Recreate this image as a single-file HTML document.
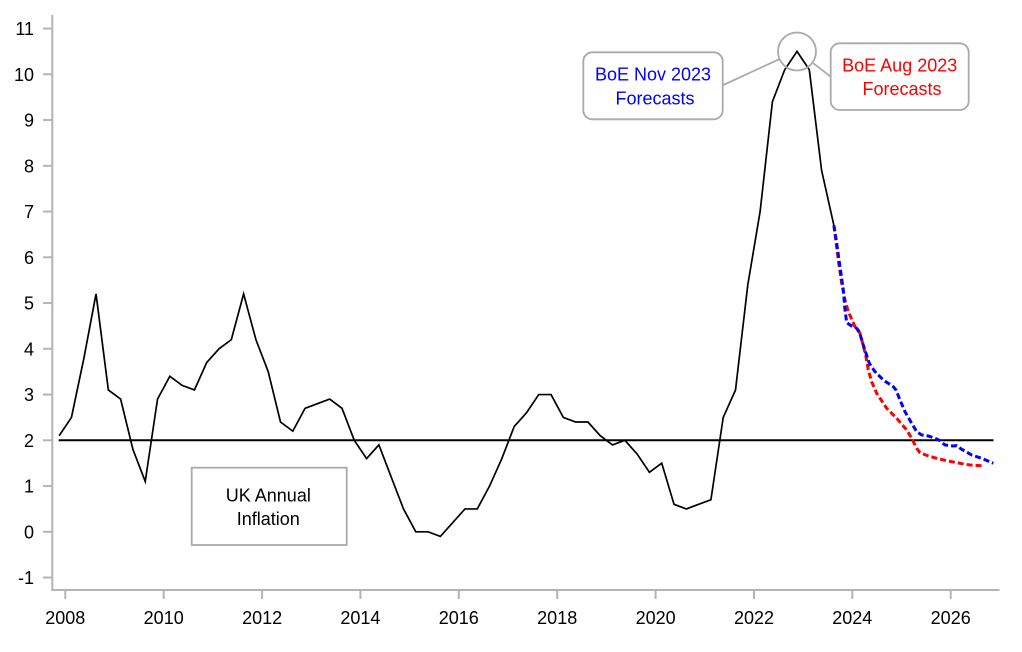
<!DOCTYPE html>
<html><head><meta charset="utf-8"><style>
html,body{margin:0;padding:0;background:#fff;}
svg{display:block;}
text{font-family:"Liberation Sans",Arial,sans-serif;font-size:18px;}
</style></head><body>
<svg width="1022" height="652" viewBox="0 0 1022 652" xmlns="http://www.w3.org/2000/svg">
<rect width="1022" height="652" fill="#fff"/>
<!-- axes -->
<g stroke="#b4b4b4" stroke-width="2" fill="none">
<line x1="52.3" y1="15" x2="52.3" y2="591"/>
<line x1="51.3" y1="590" x2="999.5" y2="590"/>
<line x1="43" y1="28.55" x2="52" y2="28.55"/>
<line x1="43" y1="74.3" x2="52" y2="74.3"/>
<line x1="43" y1="120.05" x2="52" y2="120.05"/>
<line x1="43" y1="165.8" x2="52" y2="165.8"/>
<line x1="43" y1="211.55" x2="52" y2="211.55"/>
<line x1="43" y1="257.3" x2="52" y2="257.3"/>
<line x1="43" y1="303.05" x2="52" y2="303.05"/>
<line x1="43" y1="348.8" x2="52" y2="348.8"/>
<line x1="43" y1="394.55" x2="52" y2="394.55"/>
<line x1="43" y1="440.3" x2="52" y2="440.3"/>
<line x1="43" y1="486.05" x2="52" y2="486.05"/>
<line x1="43" y1="531.8" x2="52" y2="531.8"/>
<line x1="43" y1="577.55" x2="52" y2="577.55"/>
<line x1="65.3" y1="590" x2="65.3" y2="599"/>
<line x1="163.7" y1="590" x2="163.7" y2="599"/>
<line x1="262.1" y1="590" x2="262.1" y2="599"/>
<line x1="360.4" y1="590" x2="360.4" y2="599"/>
<line x1="458.8" y1="590" x2="458.8" y2="599"/>
<line x1="557.2" y1="590" x2="557.2" y2="599"/>
<line x1="655.6" y1="590" x2="655.6" y2="599"/>
<line x1="754.0" y1="590" x2="754.0" y2="599"/>
<line x1="852.3" y1="590" x2="852.3" y2="599"/>
<line x1="950.7" y1="590" x2="950.7" y2="599"/>
</g>
<g fill="#000" text-anchor="end">
<text x="34" y="35">11</text>
<text x="34" y="80.8">10</text>
<text x="34" y="126.5">9</text>
<text x="34" y="172.3">8</text>
<text x="34" y="218">7</text>
<text x="34" y="263.8">6</text>
<text x="34" y="309.5">5</text>
<text x="34" y="355.3">4</text>
<text x="34" y="401">3</text>
<text x="34" y="446.8">2</text>
<text x="34" y="492.5">1</text>
<text x="34" y="538.3">0</text>
<text x="34" y="584">-1</text>
</g>
<g fill="#000" text-anchor="middle">
<text x="65.3" y="624">2008</text>
<text x="163.7" y="624">2010</text>
<text x="262.1" y="624">2012</text>
<text x="360.4" y="624">2014</text>
<text x="458.8" y="624">2016</text>
<text x="557.2" y="624">2018</text>
<text x="655.6" y="624">2020</text>
<text x="754.0" y="624">2022</text>
<text x="852.3" y="624">2024</text>
<text x="950.7" y="624">2026</text>
</g>
<!-- 2% line -->
<line x1="58.7" y1="440.3" x2="993.5" y2="440.3" stroke="#000" stroke-width="2"/>
<!-- UK inflation -->
<polyline fill="none" stroke="#000" stroke-width="1.7" stroke-linejoin="miter" points="59.15,435.73 71.45,417.43 83.75,358.95 96.04,293.9 108.34,389.98 120.64,399.13 132.94,449.45 145.23,481.48 157.53,399.13 169.83,376.25 182.13,385.4 194.42,389.98 206.72,362.53 219.02,348.8 231.32,339.65 243.61,293.9 255.91,339.65 268.21,371.68 280.51,422.0 292.80,431.15 305.10,408.28 317.40,403.7 329.70,399.13 341.99,408.28 354.29,440.3 366.59,458.6 378.89,444.88 391.18,476.9 403.48,508.93 415.78,531.8 428.08,531.8 440.37,536.38 452.67,522.65 464.97,508.93 477.27,508.93 489.56,486.05 501.86,458.6 514.16,426.58 526.46,412.85 538.75,394.55 551.05,394.55 563.35,417.43 575.65,422.0 587.94,422.0 600.24,435.73 612.54,444.88 624.84,440.3 637.13,454.03 649.43,472.33 661.73,463.18 674.03,504.35 686.32,508.93 698.62,504.35 710.92,499.78 723.22,417.43 735.51,389.98 747.81,284.75 760.11,211.55 772.41,101.75 784.70,69.73 797.00,51.43 809.30,69.73 821.60,170.38 833.89,225.28"/>
<!-- Aug 2023 forecast (red) -->
<polyline fill="none" stroke="#ff0000" stroke-width="3" stroke-dasharray="6 3" points="833.9,225.3 838.3,260 841.7,283.3 845,300 848.3,311.7 855,326.7 860,333.3 862.7,343.3 866,356.7 868.3,370 871.7,381.7 876.7,393.3 886.7,408.3 896.7,418.3 906.7,430 911.7,438.3 916.7,448.3 920,452.7 928.3,456 936.7,458.3 946.7,460.7 960,463.3 970,465 981.7,465.7"/>
<!-- Nov 2023 forecast (blue) -->
<polyline fill="none" stroke="#0000ff" stroke-width="3" stroke-dasharray="6 3" points="833.9,225.3 836.7,243.3 840,266.7 843.3,290 845,310 846.7,322.7 851.7,326 856.7,328.3 859.3,331.7 862.7,343.3 866,353.3 869.3,363.3 875,371.7 883.3,380 893.3,386.7 896,390 900,400 905,411.7 911.7,423.3 916.7,431.7 921.7,435 928.3,436 935,438.3 940,440.7 945,445 953.3,446 956.7,445.7 961.7,449.3 971.7,455 981.7,458.3 993.3,463.3"/>
<!-- UK Annual Inflation label box -->
<rect x="191.7" y="467.7" width="155" height="77.3" fill="#fff" stroke="#aaa" stroke-width="1.8"/>
<text x="268.3" y="501.7" text-anchor="middle" fill="#000">UK Annual</text>
<text x="268.3" y="525" text-anchor="middle" fill="#000">Inflation</text>
<!-- callouts -->
<g stroke="#aaa" stroke-width="1.8" fill="none">
<circle cx="797" cy="51.5" r="19"/>
<line x1="723.3" y1="85" x2="779" y2="59.3"/>
<line x1="813.3" y1="63.3" x2="830.7" y2="76.7"/>
<rect x="583.3" y="52.3" width="139.4" height="67" rx="9" ry="9" fill="#fff"/>
<rect x="830.7" y="43.3" width="138" height="66.7" rx="9" ry="9" fill="#fff"/>
</g>
<text x="653" y="80.7" text-anchor="middle" fill="#0000ff">BoE Nov 2023</text>
<text x="655" y="104.3" text-anchor="middle" fill="#0000ff">Forecasts</text>
<text x="899.7" y="71.7" text-anchor="middle" fill="#ff0000">BoE Aug 2023</text>
<text x="902" y="95" text-anchor="middle" fill="#ff0000">Forecasts</text>
</svg>
</body></html>
